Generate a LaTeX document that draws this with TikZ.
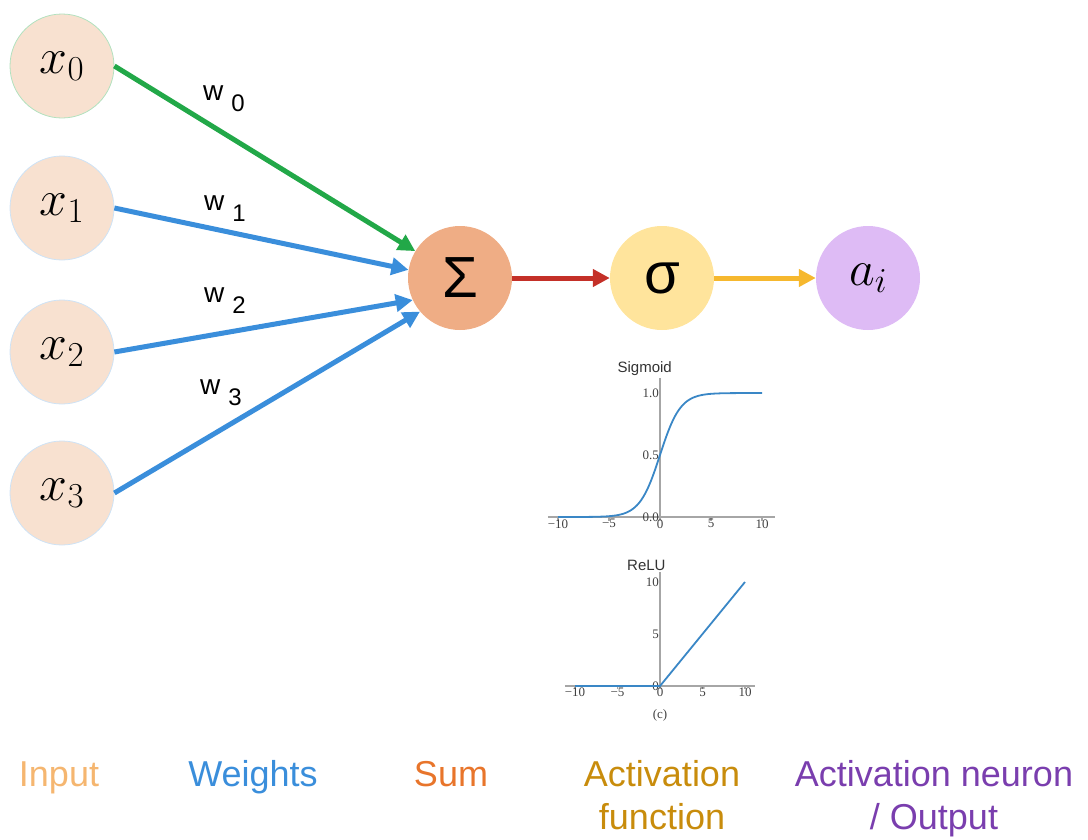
\RequirePackage{fix-cm}
\documentclass[tikz,border=0pt]{standalone}
\usepackage{fontspec}
\setmainfont{Liberation Sans}
\newfontfamily\plotserif{Liberation Serif}
\usepackage{tikz}
\usetikzlibrary{arrows.meta}
\definecolor{incol}{RGB}{248,225,208}
\definecolor{sumcol}{RGB}{239,173,133}
\definecolor{actcol}{RGB}{255,228,156}
\definecolor{outcol}{RGB}{222,187,245}
\definecolor{wgreen}{RGB}{34,168,72}
\definecolor{wblue}{RGB}{58,142,219}
\definecolor{sred}{RGB}{196,48,40}
\definecolor{ayellow}{RGB}{246,184,46}
\definecolor{curveblue}{RGB}{58,135,198}
\definecolor{txtinput}{RGB}{245,182,112}
\definecolor{txtsum}{RGB}{232,117,43}
\definecolor{txtact}{RGB}{200,140,12}
\definecolor{txtout}{RGB}{122,62,174}
\newcommand{\wsub}[1]{{\fontsize{28}{28}\selectfont w}\hspace{8pt}\raisebox{-11pt}{#1}}
\tikzset{
  neuron/.style ={circle, minimum size=104pt, inner sep=0pt},
  inp/.style    ={neuron, fill=incol, draw=wblue!25, line width=0.8pt,
                  font=\fontsize{50}{50}\selectfont},
  sumn/.style   ={neuron, fill=sumcol, font=\fontsize{58}{58}\selectfont},
  actn/.style   ={neuron, fill=actcol, font=\fontsize{58}{58}\selectfont},
  outn/.style   ={neuron, fill=outcol, font=\fontsize{50}{50}\selectfont},
  wire/.style   ={line width=5pt, -{Triangle[length=17pt,width=17pt]}},
  wlbl/.style   ={font=\fontsize{24}{24}\selectfont, inner sep=0pt},
  caption/.style={font=\fontsize{36}{43}\selectfont, align=center, anchor=base},
  axis/.style   ={draw=black!35, line width=1.4pt},
  curve/.style  ={draw=curveblue, line width=1.8pt},
  tick/.style   ={font=\plotserif\fontsize{13}{13}\selectfont, text=black!75, inner sep=1pt},
  ptitle/.style ={font=\fontsize{15}{15}\selectfont, text=black!80, inner sep=0pt},
}
\begin{document}
\begin{tikzpicture}[x=1pt, y=-1pt]
  \useasboundingbox (0,0) rectangle (1088,839);

  % neurons
  \node[inp, draw=wgreen!35] (x0) at (62,66)  {$x_0$};
  \node[inp] (x1) at (62,208) {$x_1$};
  \node[inp] (x2) at (62,352) {$x_2$};
  \node[inp] (x3) at (62,493) {$x_3$};
  \node[sumn] (sum) at (460,278) {Σ};
  \node[actn] (act) at (662,278) {σ};
  \node[outn] (out) at (868,278) {$a_i$};

  % weighted inputs
  \draw[wire, wgreen] (x0.east) -- (sum.149);
  \draw[wire, wblue]  (x1.east) -- (sum.171);
  \draw[wire, wblue]  (x2.east) -- (sum.205);
  \draw[wire, wblue]  (x3.east) -- (sum.220);
  \draw[wire, sred]    (sum) -- (act);
  \draw[wire, ayellow] (act) -- (out);

  \node[wlbl] (w0) at (224,99)  {\wsub{0}};
  \node[wlbl] (w1) at (225,209) {\wsub{1}};
  \node[wlbl] (w2) at (225,301) {\wsub{2}};
  \node[wlbl] (w3) at (221,393) {\wsub{3}};

  % sigmoid plot
  \begin{scope}[shift={(660,517)}, x=10.2pt, y=124pt]
    \draw[axis] (-11,0) -- (11.3,0);
    \draw[axis] (0,0) -- (0,1.12);
    \foreach \t/\lab in {-10/−10,-5/−5,0/0,5/5,10/10} {
      \draw[axis] (\t,0) -- (\t,-0.03);
      \node[tick, below] (sx\t) at (\t,-0.01) {\lab};
    }
    \foreach \v in {0.0,0.5,1.0}
      \node[tick, left] (sy\v) at (0,\v) {\v};
    \draw[curve] plot[domain=-10:0, samples=50, smooth] (\x,{exp(\x)/(1+exp(\x))})
      -- plot[domain=0:10, samples=50, smooth] (\x,{1/(1+exp(-\x))});
    \node[ptitle] (sigt) at (-1.5,1.2) {Sigmoid};
  \end{scope}

  % relu plot
  \begin{scope}[shift={(660,686)}, x=8.5pt, y=10.4pt]
    \draw[axis] (-11.2,0) -- (11.2,0);
    \draw[axis] (0,0) -- (0,11);
    \foreach \t/\lab in {-10/−10,-5/−5,0/0,5/5,10/10} {
      \draw[axis] (\t,0) -- (\t,-0.3);
      \node[tick, below] (rx\t) at (\t,-0.1) {\lab};
    }
    \foreach \v in {0,5,10}
      \node[tick, left] (ry\v) at (0,\v) {\v};
    \draw[curve] (-10,0) -- (0,0) -- (10,10);
    \node[ptitle] (relt) at (-1.6,11.6) {ReLU};
    \node[tick] (relc) at (0,-2.8) {(c)};
  \end{scope}

  % captions
  \node[caption, text=txtinput] (lin)  at (59,786)  {Input};
  \node[caption, text=wblue]    (lwt)  at (253,786) {Weights};
  \node[caption, text=txtsum]   (lsum) at (451,786) {Sum};
  \node[caption, text=txtact]   (lact) at (662,829) {Activation\\function};
  \node[caption, text=txtout]   (lout) at (934,829) {Activation neuron\\/ Output};
\end{tikzpicture}
\end{document}
